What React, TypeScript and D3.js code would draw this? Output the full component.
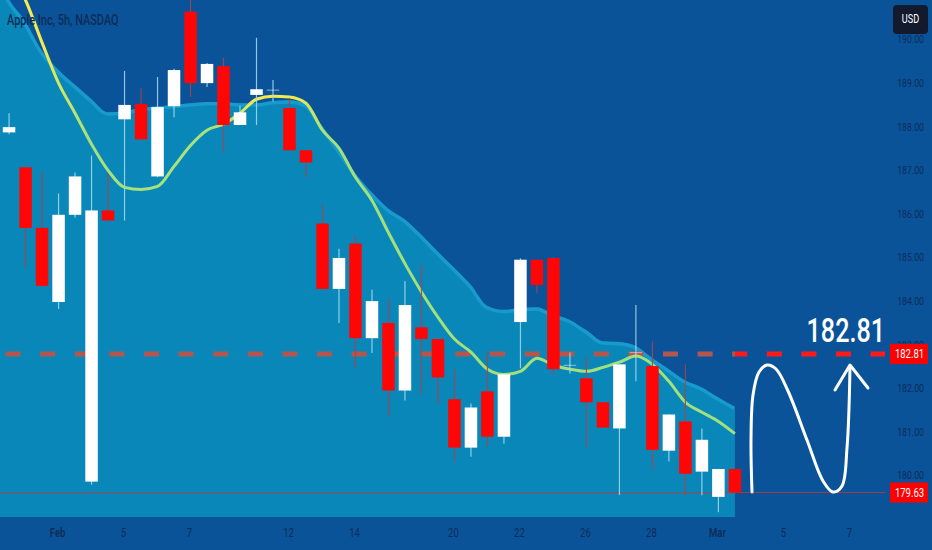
import React, { useEffect } from 'react';
import * as d3 from 'd3';

// 5h candles, Jan 31 .. Mar 1 (two bars per trading day)
const opens = [187.89, 187.09, 185.70, 184.00, 186.00, 179.88, 186.10, 188.19, 188.54, 186.88,
  188.49, 190.66, 189.02, 189.41, 188.06, 188.75, 188.86, 188.45, 187.48, 185.80,
  184.30, 185.34, 183.17, 183.52, 181.97, 183.42, 183.15, 181.77, 180.66, 181.95,
  180.91, 183.54, 184.97, 185.01, 182.55, 182.25, 181.70, 181.10, 182.84, 182.53,
  180.59, 181.26, 180.11, 179.53, 180.17];
const highs = [188.33, 187.09, 186.97, 186.49, 186.97, 187.36, 186.95, 189.30, 188.90, 189.16,
  189.35, 190.94, 189.48, 189.60, 188.50, 190.06, 189.09, 188.68, 187.48, 186.24,
  185.22, 185.52, 184.28, 184.09, 184.48, 184.85, 183.15, 182.46, 181.67, 182.87,
  182.34, 185.00, 184.97, 185.03, 182.84, 182.74, 181.70, 182.57, 183.93, 183.10,
  181.42, 182.57, 181.10, 180.17, 180.17];
const lows = [187.85, 184.78, 184.35, 183.84, 185.93, 179.81, 185.87, 185.87, 187.73, 186.86,
  188.24, 188.70, 188.93, 187.43, 188.06, 188.06, 188.60, 187.48, 186.86, 184.28,
  183.52, 182.48, 182.83, 181.37, 181.74, 181.88, 181.67, 180.34, 180.45, 180.68,
  180.75, 182.48, 184.20, 182.34, 182.36, 180.68, 181.12, 179.57, 182.18, 180.15,
  180.34, 179.57, 179.57, 179.18, 179.60];
const closes = [188.01, 185.70, 184.37, 186.00, 186.88, 186.10, 185.87, 188.52, 187.73, 188.47,
  189.32, 189.02, 189.46, 188.06, 188.35, 188.88, 188.87, 187.48, 187.20, 184.30,
  185.01, 183.17, 184.02, 181.97, 183.93, 183.15, 182.27, 180.66, 181.58, 180.91,
  182.34, 184.97, 184.39, 182.46, 182.56, 181.70, 181.12, 182.57, 182.85, 180.61,
  181.42, 180.06, 180.84, 180.17, 179.63];

// moving average and upper envelope band, starting one bar before the first visible candle
const emaValues = [192.60, 191.60, 190.92, 189.95, 189.02, 188.33, 187.62, 187.02, 186.63, 186.58, 186.65,
  187.11, 187.59, 187.94, 188.08, 188.33, 188.65, 188.72, 188.70, 188.56, 187.94,
  187.53, 186.86, 186.33, 185.59, 184.88, 184.23, 183.65, 183.15, 182.85, 182.46,
  182.34, 182.41, 182.71, 182.55, 182.46, 182.41, 182.50, 182.62, 182.76, 182.57,
  182.18, 181.70, 181.47, 181.26, 180.98];
const upperBand = [191.75, 190.94, 190.43, 189.76, 189.32, 188.98, 188.65, 188.35, 188.38, 188.45, 188.49,
  188.52, 188.56, 188.59, 188.59, 188.56, 188.56, 188.61, 188.63, 188.54, 188.03,
  187.50, 186.95, 186.51, 186.14, 185.89, 185.54, 185.15, 184.78, 184.39, 183.91,
  183.82, 183.86, 183.88, 183.72, 183.59, 183.35, 183.10, 183.08, 182.99, 182.71,
  182.46, 182.20, 182.04, 181.81, 181.60];

const priceTicks = [180, 181, 182, 183, 184, 185, 186, 187, 188, 189, 190];
const dateLabels = ['Feb', '5', '7', '12', '14', '20', '22', '26', '28', 'Mar', '5', '7'];
const dateBars = [3, 7, 11, 17, 21, 27, 31, 35, 39, 43, 47, 51];

const targetPrice = 182.81;
const lastPrice = 179.63;

const W = 932;
const H = 550;
const plotRight = 885;
const plotBottom = 517;
const font = "Roboto, 'DejaVu Sans', sans-serif";
const axisColor = '#0b2c58';

// narrow text, the screenshot uses a condensed face
const T = ({ x, y, size, anchor = 'start', fill = axisColor, weight = 400, sx = 0.76, children }: any) => (
  <text transform={`translate(${x},${y}) scale(${sx},1)`} textAnchor={anchor} fontFamily={font}
    fontSize={size} fontWeight={weight} fill={fill}>
    {children}
  </text>
);

export default function App() {
  useEffect(() => {
    document.body.style.margin = '0';
  }, []);

  const x = d3.scaleLinear().domain([-0.55, 53.1]).range([0, plotRight]);
  const y = d3.scaleLinear().domain([179, 190]).range([520, 40.4]);
  const bodyW = 12.5;
  const lastX = x(opens.length - 1);

  const idx = d3.range(opens.length);
  const ovl = d3.range(-1, opens.length);
  const area = d3.area<number>()
    .x(i => x(i)).y0(plotBottom).y1(i => y(upperBand[i + 1]))
    .curve(d3.curveMonotoneX)(ovl);
  const bandLine = d3.line<number>()
    .x(i => x(i)).y(i => y(upperBand[i + 1]))
    .curve(d3.curveMonotoneX)(ovl);
  const emaLine = d3.line<number>()
    .x(i => x(i)).y(i => y(emaValues[i + 1]))
    .curve(d3.curveMonotoneX)(ovl);

  // hand drawn "N" arrow
  const arrowPts: [number, number][] = [[752, 492], [751, 440], [753, 395], [759, 372], [767, 365],
    [776, 369], [788, 391], [807, 440], [823, 481], [833, 492], [842, 486], [847, 448], [849, 408], [850, 366]];
  const arrowPath = d3.line().curve(d3.curveCatmullRom)(arrowPts);

  return (
    <div style={{ position: 'absolute', left: 0, top: 0 }}>
      <svg width={W} height={H} style={{ display: 'block' }}>
        <defs>
          <linearGradient id="ema" gradientUnits="userSpaceOnUse" x1={0} x2={plotRight} y1={0} y2={0}>
            <stop offset="0" stopColor="#fff04a" />
            <stop offset="0.05" stopColor="#f0ea50" />
            <stop offset="0.1" stopColor="#a4e07c" />
            <stop offset="0.25" stopColor="#a9e37a" />
            <stop offset="0.285" stopColor="#f2ea4c" />
            <stop offset="0.335" stopColor="#f2ea4c" />
            <stop offset="0.37" stopColor="#a3e07c" />
            <stop offset="1" stopColor="#9ee07e" />
          </linearGradient>
          <linearGradient id="dash" gradientUnits="userSpaceOnUse" x1={0} x2={plotRight} y1={0} y2={0}>
            <stop offset="0" stopColor="#b3564f" />
            <stop offset={lastX / plotRight} stopColor="#b3564f" />
            <stop offset={lastX / plotRight} stopColor="#ff1a1a" />
            <stop offset="1" stopColor="#ff1a1a" />
          </linearGradient>
          <clipPath id="areaClip"><path d={area || ''} /></clipPath>
        </defs>

        <rect width={W} height={H} fill="#0b5399" />

        <path d={area || ''} fill="#0987b8" />
        <path d={bandLine || ''} fill="none" stroke="#1c9fd2" strokeWidth={7} clipPath="url(#areaClip)" opacity={0.8} />

        <line x1={0} x2={plotRight} y1={y(lastPrice)} y2={y(lastPrice)} stroke="#c8383a" strokeWidth={1} opacity={0.8} />
        <line x1={0} x2={plotRight} y1={y(targetPrice)} y2={y(targetPrice)} stroke="url(#dash)"
          strokeWidth={5} strokeDasharray="15 19.6" strokeDashoffset={29} />

        <path d={emaLine || ''} fill="none" stroke="url(#ema)" strokeWidth={3} />

        {idx.map(i => {
          const up = closes[i] >= opens[i];
          const cx = x(i);
          const top = y(Math.max(opens[i], closes[i]));
          const bot = y(Math.min(opens[i], closes[i]));
          return (
            <g key={i}>
              <line x1={cx} x2={cx} y1={y(highs[i])} y2={y(lows[i])}
                stroke={up ? '#a9dbf2' : '#b0404a'} strokeWidth={1.2} opacity={0.85} />
              <rect x={cx - bodyW / 2} width={bodyW} y={top} height={Math.max(1, bot - top)}
                fill={up ? '#ffffff' : '#ff0606'} opacity={Math.abs(closes[i] - opens[i]) < 0.03 ? 0.5 : 1} />
            </g>
          );
        })}

        <T x={7} y={25} size={14} weight={500} sx={0.78}>Apple Inc, 5h, NASDAQ</T>

        {priceTicks.map(t => (
          <T key={t} x={924} y={y(t) + 3} size={11.5} anchor="end">{t.toFixed(2)}</T>
        ))}

        {dateLabels.map((d, i) => (
          <T key={i} x={x(dateBars[i]) - 1} y={537} size={12.5} anchor="middle"
            weight={d === 'Feb' || d === 'Mar' ? 600 : 400}>{d}</T>
        ))}

        <rect x={893} y={5} width={35} height={29} rx={4} fill="#131a2e" />
        <T x={910.5} y={23} size={12} anchor="middle" fill="#ffffff">USD</T>

        <rect x={890} y={y(targetPrice) - 10} width={38} height={20} fill="#ff0000" />
        <T x={909.5} y={y(targetPrice) + 4.5} size={12.5} anchor="middle" fill="#ffffff">{targetPrice.toFixed(2)}</T>
        <rect x={890} y={y(lastPrice) - 10} width={38} height={20} fill="#ff0000" />
        <T x={909.5} y={y(lastPrice) + 4.5} size={12.5} anchor="middle" fill="#ffffff">{lastPrice.toFixed(2)}</T>

        <T x={885} y={342} size={34} weight={500} anchor="end" fill="#ffffff" sx={0.74}>
          {targetPrice.toFixed(2)}
        </T>

        <path d={arrowPath || ''} fill="none" stroke="#ffffff" strokeWidth={3} strokeLinecap="round" />
        <path d="M835,390 L850,365 L868,388" fill="none" stroke="#ffffff" strokeWidth={3}
          strokeLinecap="round" strokeLinejoin="round" />
      </svg>
    </div>
  );
}
